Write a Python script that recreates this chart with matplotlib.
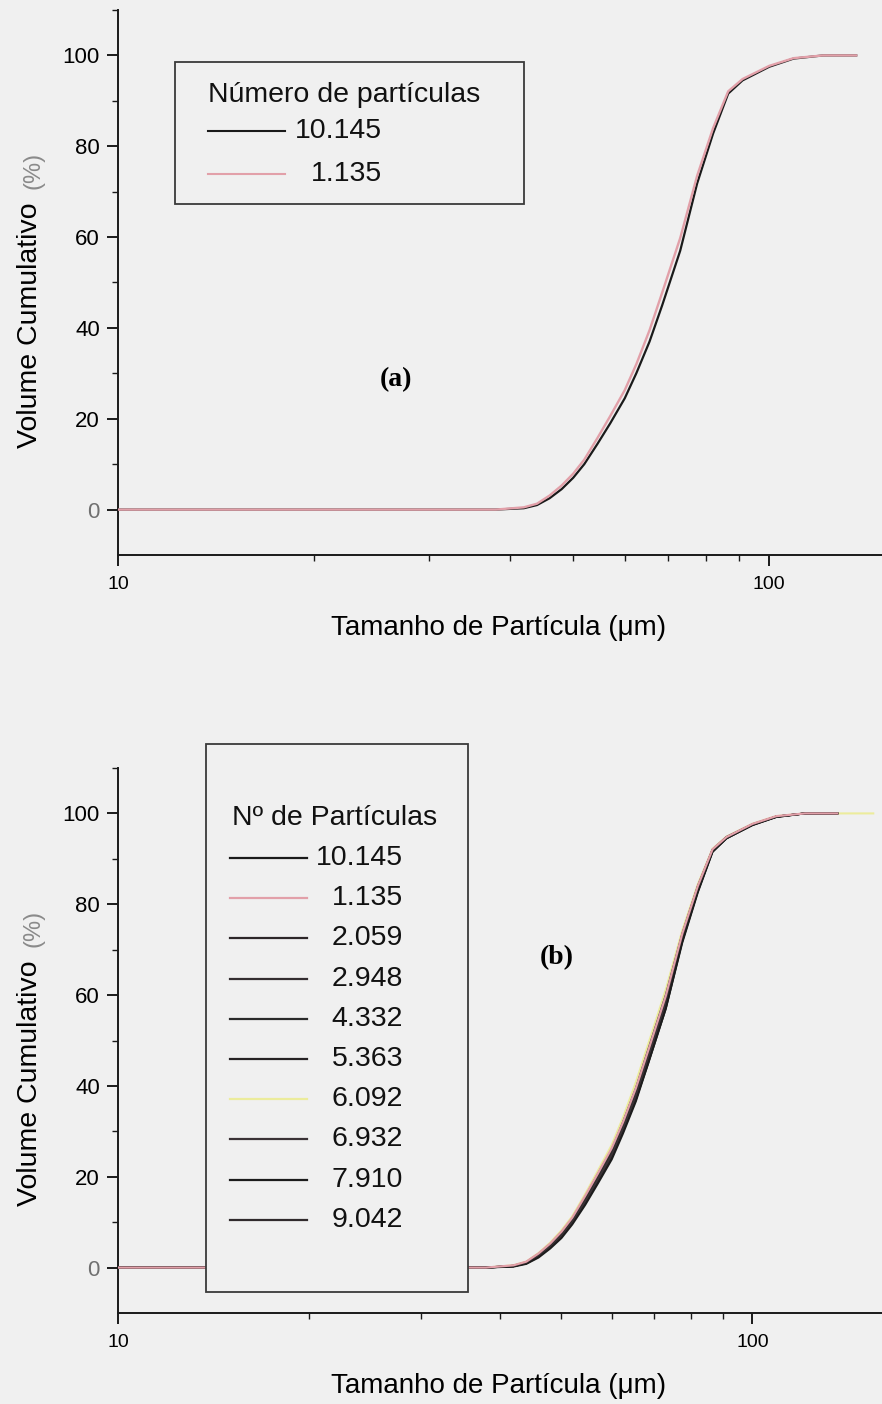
import matplotlib
matplotlib.use("Agg")
import matplotlib.pyplot as plt
from matplotlib.lines import Line2D
from matplotlib.patches import Rectangle
from matplotlib.ticker import FixedLocator, NullFormatter, FuncFormatter

plt.rcParams['font.family'] = ['Liberation Sans', 'DejaVu Sans']

# ---------------------------------------------------------------- data
# particle size grid (µm)
sizes = [10, 20, 30, 38, 42, 44, 46, 48, 50, 52, 54.5, 57, 60, 62.5, 65.5,
         68.5, 73, 77.5, 82, 86.5, 91, 100, 109, 121, 136]
sizes_long = [10, 20, 30, 38, 42, 44, 46, 48, 50, 52, 54.5, 57, 60, 62.5, 65.5,
              68.5, 73, 77.5, 82, 86.5, 91, 100, 109, 121, 136, 155]

# cumulative volume (%) for each number of particles
cum_10145 = [0, 0, 0, 0, 0.3, 1.0, 2.5, 4.5, 7.0, 10.0, 14.5, 19.0, 24.5, 30.0,
             37.0, 45.0, 57.0, 71.8, 82.8, 91.6, 94.5, 97.5, 99.3, 100, 100]
cum_1135 = [0, 0, 0, 0, 0.5, 1.3, 3.1, 5.3, 7.9, 11.0, 15.8, 20.6, 26.3, 32.0,
            39.5, 47.8, 59.8, 73.5, 84.0, 92.1, 94.8, 97.7, 99.4, 100, 100]
cum_2059 = [0, 0, 0, 0, 0.4, 1.2, 3.0, 5.2, 7.8, 10.8, 15.5, 20.5, 26.0, 32.0,
            39.5, 48.0, 60.0, 73.5, 84.0, 92.0, 94.8, 97.6, 99.3, 100, 100]
cum_2948 = [0, 0, 0, 0, 0.3, 1.0, 2.6, 4.7, 7.2, 10.2, 14.8, 19.5, 25.0, 31.0,
            38.0, 46.0, 58.0, 72.5, 83.2, 91.8, 94.6, 97.5, 99.3, 100, 100]
cum_4332 = [0, 0, 0, 0, 0.4, 1.1, 2.8, 5.0, 7.5, 10.5, 15.2, 20.0, 25.5, 31.5,
            38.8, 47.0, 59.0, 73.0, 83.6, 91.9, 94.7, 97.6, 99.3, 100, 100]
cum_5363 = [0, 0, 0, 0, 0.3, 0.9, 2.4, 4.4, 6.8, 9.8, 14.2, 18.8, 24.2, 30.0,
            37.2, 45.5, 57.5, 72.0, 83.0, 91.7, 94.6, 97.5, 99.2, 100, 100]
cum_6092 = [0, 0, 0, 0, 0.5, 1.3, 3.2, 5.5, 8.2, 11.3, 16.2, 21.2, 27.0, 33.0,
            40.8, 49.2, 61.2, 74.2, 84.4, 92.2, 94.9, 97.7, 99.4, 100, 100, 100]
cum_6932 = [0, 0, 0, 0, 0.3, 1.0, 2.5, 4.6, 7.0, 10.0, 14.6, 19.3, 24.8, 30.6,
            37.8, 46.2, 58.3, 72.6, 83.3, 91.8, 94.6, 97.5, 99.3, 100, 100]
cum_7910 = [0, 0, 0, 0, 0.2, 0.8, 2.2, 4.2, 6.5, 9.5, 13.8, 18.4, 23.8, 29.5,
            36.6, 45.0, 57.0, 71.5, 82.6, 91.5, 94.5, 97.4, 99.2, 100, 100]
cum_9042 = [0, 0, 0, 0, 0.4, 1.1, 2.9, 5.1, 7.6, 10.7, 15.4, 20.3, 25.8, 31.8,
            39.2, 47.5, 59.5, 73.2, 83.8, 92.0, 94.8, 97.6, 99.3, 100, 100]

labels_a = ["10.145", "1.135"]
labels_b = ["10.145", "1.135", "2.059", "2.948", "4.332",
            "5.363", "6.092", "6.932", "7.910", "9.042"]

x_major = [10, 100]
x_minor = [20, 30, 40, 50, 60, 70, 80, 90]
y_major = [0, 20, 40, 60, 80, 100]
y_minor = [10, 30, 50, 70, 90, 110]

# ---------------------------------------------------------------- style
BG = '#f0f0f0'
INK = '#1a1a1a'
PINK = '#e2a0a9'
YELLOW = '#ecec9c'

W, H = 882, 1404
fig = plt.figure(figsize=(W / 100, H / 100), dpi=100)
fig.patch.set_facecolor(BG)


def fx(px):
    return px / W


def fy(py):
    return 1 - py / H


def make_axes(top_px, bottom_px):
    return fig.add_axes([fx(118), fy(bottom_px), fx(882) - fx(118),
                         fy(top_px) - fy(bottom_px)])


def style(ax, xmax):
    ax.set_facecolor(BG)
    ax.set_xscale('log')
    ax.set_xlim(10, xmax)
    ax.set_ylim(-10, 110)
    for s in ('top', 'right'):
        ax.spines[s].set_visible(False)
    for s in ('left', 'bottom'):
        ax.spines[s].set_linewidth(1.4)
        ax.spines[s].set_color(INK)
    ax.xaxis.set_major_locator(FixedLocator(x_major))
    ax.xaxis.set_minor_locator(FixedLocator(x_minor))
    ax.xaxis.set_major_formatter(FuncFormatter(lambda v, p: f'{v:g}'))
    ax.xaxis.set_minor_formatter(NullFormatter())
    ax.yaxis.set_major_locator(FixedLocator(y_major))
    ax.yaxis.set_minor_locator(FixedLocator(y_minor))
    ax.yaxis.set_major_formatter(FuncFormatter(lambda v, p: f'{v:g}'))
    ax.tick_params(which='major', direction='out', length=8, width=1.4, color=INK)
    ax.tick_params(which='minor', direction='out', length=4.5, width=1.0, color=INK)
    ax.tick_params(axis='x', labelsize=14, pad=7)
    ax.tick_params(axis='y', labelsize=16, pad=5)
    ax.yaxis.get_major_ticks()[0].label1.set_color('#707070')

    ax.set_xlabel('Tamanho de Partícula (μm)', fontsize=20)
    ax.xaxis.label.set_va('center')
    ax.xaxis.set_label_coords(0.4987, -0.134)

    ax.set_ylabel('Volume Cumulativo', fontsize=20.5)
    ax.yaxis.label.set_rotation_mode('default')
    ax.yaxis.label.set_va('center')
    ax.yaxis.label.set_ha('center')
    ax.yaxis.set_label_coords(-0.1152, 0.421)
    ax.text(-0.111, 0.705, '(%)', transform=ax.transAxes, rotation=90,
            ha='center', va='center', fontsize=17, color='#8a8a8a')


def legend_box(x0, y0, x1, y1, title, tx, ty, rows, lx0, lx1, text_right):
    fig.add_artist(Rectangle((fx(x0), fy(y1)), fx(x1) - fx(x0), fy(y0) - fy(y1),
                             transform=fig.transFigure, facecolor=BG,
                             edgecolor='#3a3a3a', linewidth=1.3, zorder=5))
    fig.text(fx(tx), fy(ty), title, ha='left', va='center', fontsize=20.5,
             color='#111111', zorder=7)
    for (label, color, lw), y in rows:
        fig.add_artist(Line2D([fx(lx0), fx(lx1)], [fy(y), fy(y)],
                              transform=fig.transFigure, color=color,
                              linewidth=lw, zorder=6))
        fig.text(fx(text_right), fy(y), label, ha='right', va='center',
                 fontsize=20.5, color='#111111', zorder=7)


# ---------------------------------------------------------------- (a)
ax_a = make_axes(10, 555)
style(ax_a, 149)
ax_a.plot(sizes, cum_10145, color=INK, lw=1.6, zorder=3)
ax_a.plot(sizes, cum_1135, color=PINK, lw=1.7, zorder=3)
ax_a.text(0.364, 0.322, '(a)', transform=ax_a.transAxes, ha='center', va='center',
          fontsize=20, fontweight='bold', family='Liberation Serif')

legend_box(175, 62, 524, 204, 'Número de partículas', 208, 95,
           list(zip([(labels_a[0], INK, 1.5), (labels_a[1], PINK, 1.5)], [131, 174])),
           208, 285, 382)

# ---------------------------------------------------------------- (b)
ax_b = make_axes(768, 1313)
style(ax_b, 160)

series_b = [cum_10145, cum_1135, cum_2059, cum_2948, cum_4332,
            cum_5363, cum_6092, cum_6932, cum_7910, cum_9042]
colors_b = [INK, PINK, '#2c2628', '#332d30', '#2a2a2a',
            '#262224', YELLOW, '#3a3236', '#1c1c1c', '#302a2c']

ax_b.plot(sizes_long, cum_6092, color=YELLOW, lw=1.5, zorder=2)
for lab, ys, c in zip(labels_b, series_b, colors_b):
    if lab in ('6.092', '1.135'):
        continue
    ax_b.plot(sizes, ys, color=c, lw=1.4, zorder=3)
ax_b.plot(sizes, cum_1135, color=PINK, lw=1.6, zorder=3)

ax_b.text(0.5746, 0.653, '(b)', transform=ax_b.transAxes, ha='center', va='center',
          fontsize=20, fontweight='bold', family='Liberation Serif')

row_y = [858 + 40.2 * i for i in range(len(labels_b))]
legend_box(206, 744, 468, 1292, 'Nº de Partículas', 232, 818,
           list(zip([(l, c, 1.6) for l, c in zip(labels_b, colors_b)], row_y)),
           230, 307, 403)

fig.savefig('out.png', dpi=100, facecolor=BG)
